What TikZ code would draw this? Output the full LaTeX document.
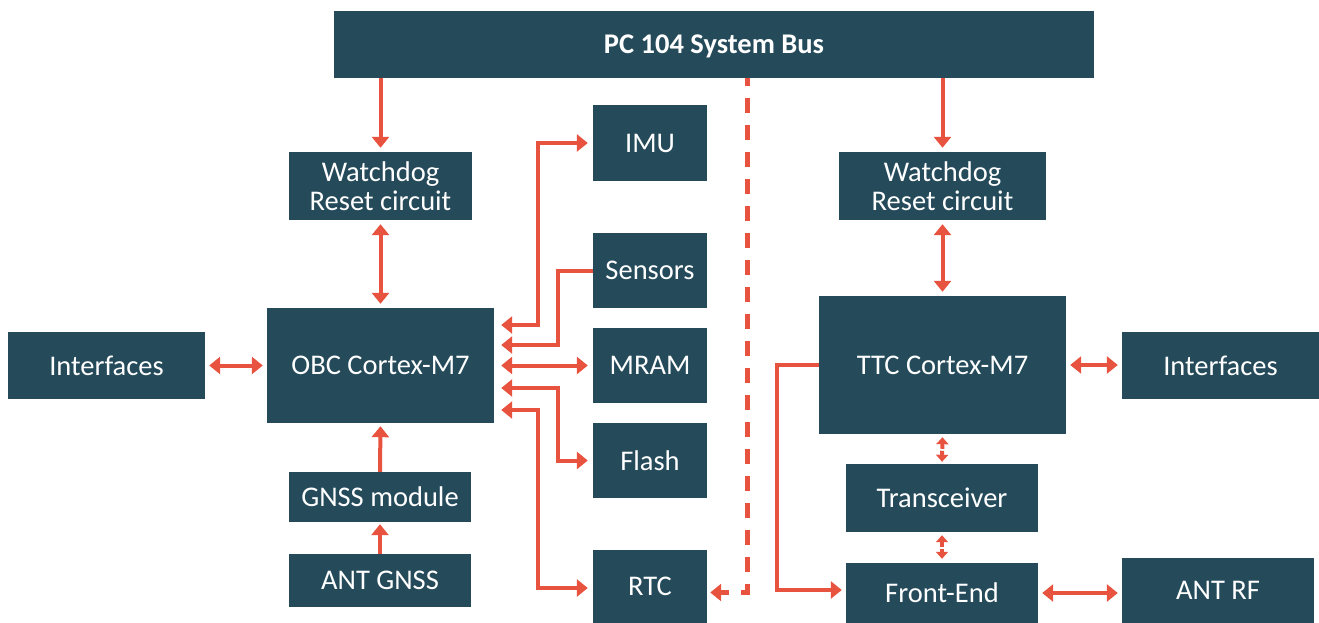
\documentclass[tikz,border=0pt]{standalone}
\usepackage{fontspec}
\setmainfont{Carlito}
\usetikzlibrary{arrows.meta,calc}
\definecolor{boxc}{HTML}{254B5B}
\definecolor{redc}{HTML}{E8533F}
\begin{document}
\begin{tikzpicture}[x=1bp,y=-1bp,
  box/.style={fill=boxc,text=white,inner sep=0pt,align=center,
    font=\fontsize{28.5bp}{29bp}\selectfont},
  conn/.style={draw=redc,line width=4bp,
    >={Triangle[width=17bp,length=11bp]}},
  dconn/.style={draw=redc,line width=5bp,dash pattern=on 15bp off 12bp,dash phase=7bp,
    >={Triangle[width=17bp,length=11bp]}},
  sconn/.style={draw=redc,line width=4bp,dash pattern=on 5bp off 2bp,
    >={Triangle[width=12bp,length=7bp]}},
  gap/.style={shorten >=4bp},
  gapb/.style={shorten <=4bp,shorten >=4bp}]
\useasboundingbox (0,0) rectangle (1319,623);
% boxes
\node[box,minimum width=760bp,minimum height=67bp,text depth=0pt,font=\fontsize{28.5bp}{29bp}\selectfont\bfseries] (bus) at (714,44.5) {PC 104 System Bus};
\node[box,minimum width=183bp,minimum height=68bp] (wdL) at (380.5,186) {Watchdog\\Reset circuit};
\node[box,minimum width=207bp,minimum height=68bp] (wdR) at (942.5,186) {Watchdog\\Reset circuit};
\node[box,minimum width=227bp,minimum height=115bp] (obc) at (380.5,365.5) {OBC Cortex-M7};
\node[box,minimum width=197bp,minimum height=67bp] (ifL) at (106.5,365.5) {Interfaces};
\node[box,minimum width=182bp,minimum height=50bp] (gnss) at (380,497) {GNSS module};
\node[box,minimum width=182bp,minimum height=53bp] (antg) at (380,580.5) {ANT GNSS};
\node[box,minimum width=114bp,minimum height=76bp] (imu) at (650,143) {IMU};
\node[box,minimum width=114bp,minimum height=75bp] (sens) at (650,270.5) {Sensors};
\node[box,minimum width=114bp,minimum height=75bp] (mram) at (650,365.5) {MRAM};
\node[box,minimum width=114bp,minimum height=75bp] (flash) at (650,460.5) {Flash};
\node[box,minimum width=114bp,minimum height=73bp] (rtc) at (650,586.5) {RTC};
\node[box,minimum width=247bp,minimum height=138bp] (ttc) at (942.5,365) {TTC Cortex-M7};
\node[box,minimum width=192bp,minimum height=68bp] (trx) at (942,498) {Transceiver};
\node[box,minimum width=192bp,minimum height=60bp] (fe) at (942,593) {Front-End};
\node[box,minimum width=197bp,minimum height=67bp] (ifR) at (1220.5,365.5) {Interfaces};
\node[box,minimum width=192bp,minimum height=65bp] (antrf) at (1218,590.5) {ANT RF};
% connectors
\draw[conn,->,gap] (wdL.north |- bus.south) -- (wdL.north);
\draw[conn,->,gap] (wdR.north |- bus.south) -- (wdR.north);
\draw[conn,<->,gapb] (wdL.south) -- (obc.north);
\draw[conn,<->,gapb] (wdR.south) -- (ttc.north);
\draw[conn,<->,gapb] (ifL.east) -- (obc.west);
\draw[conn,<->,gapb] (ttc.east) -- (ttc.east -| ifR.west);
\draw[conn,->,shorten >=3bp] (gnss.north) -- (obc.south);
\draw[conn,->,shorten >=2bp] (antg.north) -- (gnss.south);
\draw[conn,<->,shorten <=7bp,shorten >=5bp] ([yshift=40.5bp]obc.east) -- ++(44,0) |- (imu.west);
\draw[conn,->,shorten >=7bp] (sens.west) -- ++(-35,0) |- ([yshift=20.5bp]obc.east);
\draw[conn,<->,shorten <=7bp,shorten >=5bp] (obc.east) -- (mram.west);
\draw[conn,<->,shorten <=7bp,shorten >=5bp] ([yshift=-22.5bp]obc.east) -- ++(64,0) |- (flash.west);
\draw[conn,<->,shorten <=7bp,shorten >=5bp] ([yshift=-44.5bp]obc.east) -- ++(44,0) |- ([yshift=-1.5bp]rtc.west);
\draw[dconn,->,shorten >=3bp] ([xshift=33.5bp]bus.south) |- ([yshift=-6bp]rtc.east);
\draw[conn,->,shorten >=4bp] (ttc.west) -- ++(-42,0) |- ([yshift=3bp]fe.west);
\draw[conn,<->,gapb] (fe.east) -- (fe.east -| antrf.west);
\draw[sconn,<->,shorten <=3bp,shorten >=2bp] (ttc.south) -- (trx.north);
\draw[sconn,<->,shorten <=3bp,shorten >=4bp] (trx.south) -- (fe.north);
\end{tikzpicture}
\end{document}
